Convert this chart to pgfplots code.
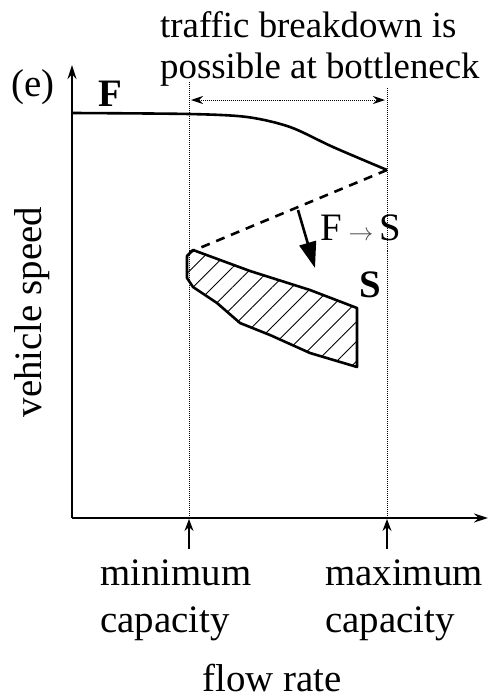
\documentclass[border=0pt]{standalone}
\usepackage{pgfplots}
\pgfplotsset{compat=1.18}
\usepackage{fontspec}
\setmainfont{Liberation Serif}
\usetikzlibrary{patterns.meta,arrows.meta}
\begin{document}
\begin{tikzpicture}
\begin{axis}[
  name=ax,
  x=1bp, y=1bp,
  xmin=0, xmax=416, ymin=0, ymax=453,
  axis lines=left,
  axis line style={line width=1.3bp, -{Stealth[length=14bp,width=9bp]}},
  xtick=\empty, ytick=\empty,
  clip=false,
  font=\fontsize{39}{46}\selectfont,
  xlabel={flow rate},
  xlabel style={at={(axis cs:200,-173)}, anchor=base, inner sep=0pt},
  ylabel={vehicle speed},
  ylabel style={at={(axis cs:-40,206)}, anchor=center},
]
% dotted verticals
\addplot[black, line width=1bp, densely dotted] coordinates {(117,0) (117,436)};
\addplot[black, line width=1bp, densely dotted] coordinates {(315,0) (315,430)};
% dotted double arrow
\addplot[black, line width=1bp, densely dotted, {Stealth[length=12bp,width=8bp]}-{Stealth[length=12bp,width=8bp]}] coordinates {(119,418) (313,418)};
% F branch
\addplot[black, line width=2.6bp, smooth] coordinates {(0,405) (117,404) (175,401) (218,391) (261,371) (315,348)};
% dashed line F->S
\addplot[black, line width=2.6bp, dash pattern=on 9bp off 7bp] coordinates {(315,348) (118,266)};
% S region hatched
\addplot[black, line width=2.6bp, line join=round,
  pattern={Lines[angle=45, distance=14bp, line width=0.9bp]}, pattern color=black]
  coordinates {(121,268) (115,262) (115,240) (121,231) (145,215) (168,195) (198,183) (238,165) (285,151) (285,210) (238,228) (178,247) (121,268)} -- cycle;
% F->S arrow
\addplot[black, line width=2.6bp, -{Triangle[length=26bp,width=17bp]}] coordinates {(226,308) (243,250)};
% capacity arrows
\addplot[black, line width=1.3bp, -{Stealth[length=12bp,width=9bp]}] coordinates {(117,-31) (117,-1)};
\addplot[black, line width=1.3bp, -{Stealth[length=12bp,width=9bp]}] coordinates {(315,-31) (315,-1)};
% texts
\node[anchor=center, font=\fontsize{39}{46}\selectfont] at (axis cs:-39,431) {(e)};
\node[anchor=center, font=\fontsize{39}{46}\selectfont\bfseries] at (axis cs:38,424) {F};
\node[anchor=center, font=\fontsize{39}{46}\selectfont\bfseries] at (axis cs:298,233) {S};
\node[anchor=center, font=\fontsize{39}{46}\selectfont] at (axis cs:289,290) {F\,{\color{black!70}$\rightarrow$}\,S};
\node[anchor=base west, inner sep=0pt, font=\fontsize{37}{44}\selectfont] at (axis cs:88,481) {traffic breakdown is};
\node[anchor=base west, inner sep=0pt, font=\fontsize{37}{44}\selectfont] at (axis cs:88,440) {possible at bottleneck};
\node[anchor=base west, inner sep=0pt, font=\fontsize{39}{46}\selectfont] at (axis cs:28,-67) {minimum};
\node[anchor=base west, inner sep=0pt, font=\fontsize{39}{46}\selectfont] at (axis cs:28,-114) {capacity};
\node[anchor=base west, inner sep=0pt, font=\fontsize{39}{46}\selectfont] at (axis cs:253,-67) {maximum};
\node[anchor=base west, inner sep=0pt, font=\fontsize{39}{46}\selectfont] at (axis cs:253,-114) {capacity};
\end{axis}
\pgfresetboundingbox
\path[use as bounding box] ([shift={(-72bp,-180bp)}]ax.south west) rectangle ([shift={(416bp,518bp)}]ax.south west);
\end{tikzpicture}
\end{document}
